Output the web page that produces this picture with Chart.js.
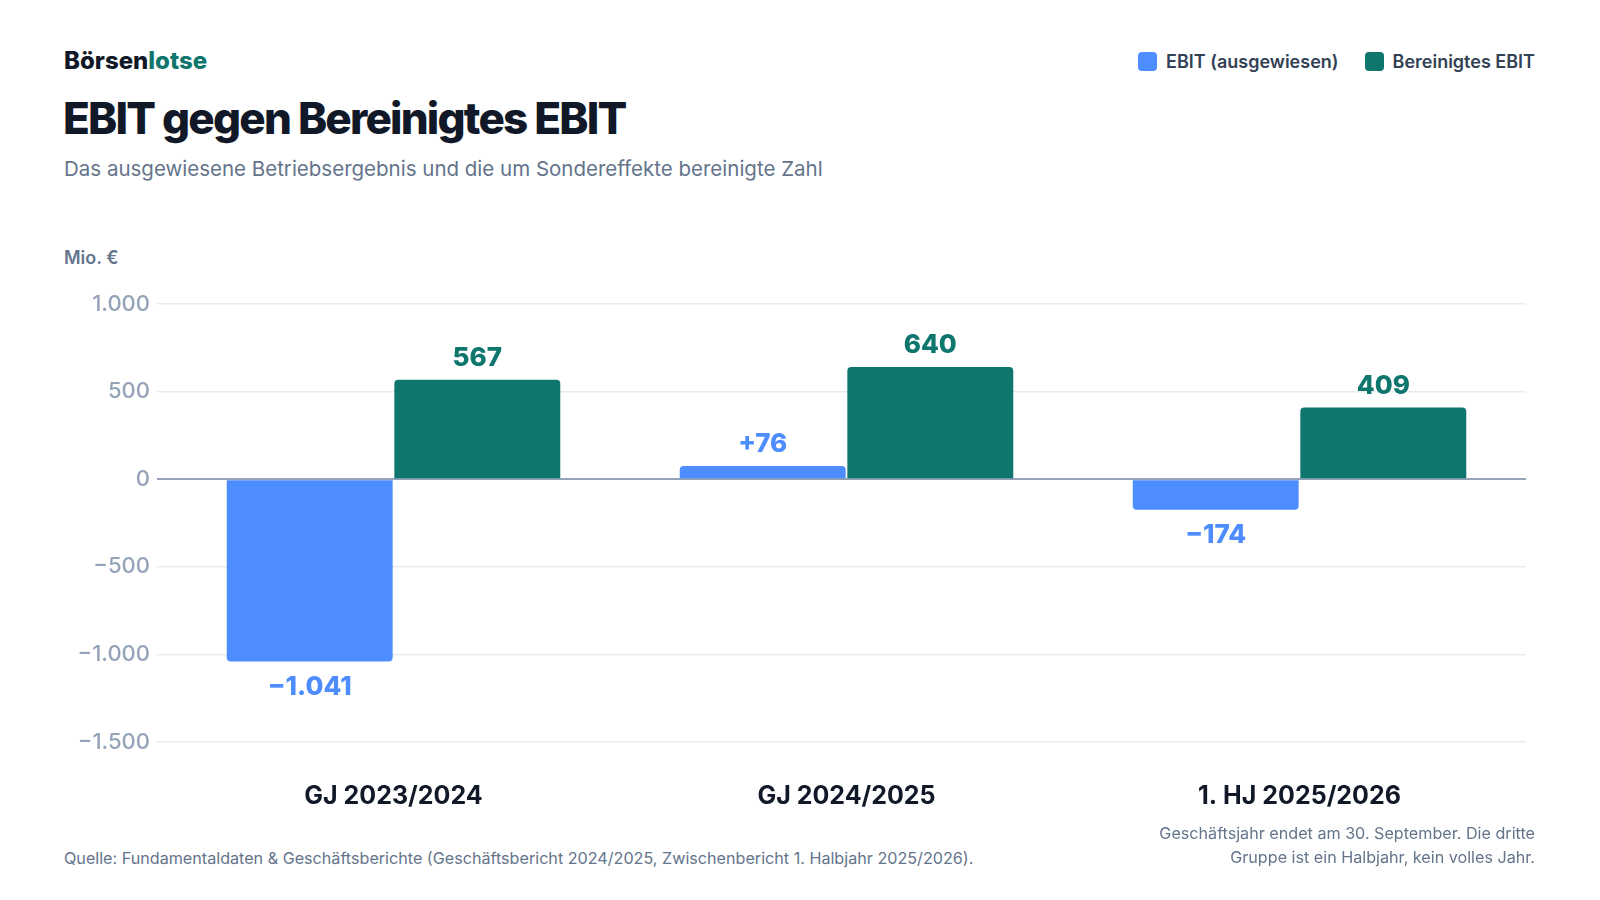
<!DOCTYPE html>
<html lang="de">
<head>
<meta charset="utf-8">
<title>EBIT gegen Bereinigtes EBIT</title>
<script src="https://cdn.jsdelivr.net/npm/chart.js@4.4.1/dist/chart.umd.min.js"></script>
<style>
  html, body { margin: 0; padding: 0; background: #fff; }
  body { width: 1600px; height: 900px; position: relative; overflow: hidden;
         font-family: Inter, "Noto Sans", sans-serif; }
  .abs { position: absolute; white-space: nowrap; }
  #brand { left: 64px; top: 49px; font-size: 24px; line-height: 1; font-weight: 800;
           color: #111827; letter-spacing: 0; }
  #brand span { color: #0f766e; }
  #title { left: 63px; top: 96px; font-size: 44px; line-height: 1; font-weight: 800;
           color: #111827; letter-spacing: -1.8px; }
  #subtitle { left: 64px; top: 159px; font-size: 20.5px; line-height: 1; color: #64748b; }
  #unit { left: 64px; top: 249px; font-size: 18px; line-height: 1; font-weight: 600; color: #64748b; }
  #legend { right: 65px; top: 51px; display: flex; align-items: center; gap: 26px;
            font-size: 18px; font-weight: 600; color: #334155; }
  #legend .item { display: flex; align-items: center; gap: 9px; }
  #legend i { display: inline-block; width: 19px; height: 19px; border-radius: 4px; }
  #source { left: 64px; top: 850px; font-size: 16.15px; line-height: 1; color: #64748b; }
  #note { right: 65px; top: 821px; font-size: 16.15px; line-height: 24px; color: #64748b; text-align: right; }
  #wrap { position: absolute; left: 0; top: 270px; width: 1600px; height: 560px; }
</style>
</head>
<body>
<div id="brand" class="abs">Börsen<span>lotse</span></div>
<div id="title" class="abs">EBIT gegen Bereinigtes EBIT</div>
<div id="subtitle" class="abs">Das ausgewiesene Betriebsergebnis und die um Sondereffekte bereinigte Zahl</div>
<div id="legend" class="abs"></div>
<div id="unit" class="abs">Mio. €</div>
<div id="wrap"><canvas id="chart"></canvas></div>
<div id="source" class="abs">Quelle: Fundamentaldaten &amp; Geschäftsberichte (Geschäftsbericht 2024/2025, Zwischenbericht 1. Halbjahr 2025/2026).</div>
<div id="note" class="abs">Geschäftsjahr endet am 30. September. Die dritte<br>Gruppe ist ein Halbjahr, kein volles Jahr.</div>

<script>
/* ---------- Daten ---------- */
const perioden      = ['GJ 2023/2024', 'GJ 2024/2025', '1. HJ 2025/2026'];
const ebitAusgew    = [-1041, 76, -174];
const ebitBereinigt = [567, 640, 409];
const serienNamen   = ['EBIT (ausgewiesen)', 'Bereinigtes EBIT'];
const yTicks        = [-1500, -1000, -500, 0, 500, 1000];

const BLAU = '#4d8dff', TEAL = '#0f766e';

/* Zahl im deutschen Format, echtes Minuszeichen */
function fmt(v, mitPlus) {
  const abs = String(Math.abs(v)).replace(/\B(?=(\d{3})+(?!\d))/g, '.');
  if (v < 0) return '\u2212' + abs;
  return (mitPlus && v > 0 ? '+' : '') + abs;
}

/* ---------- Legende ---------- */
const legend = document.getElementById('legend');
[BLAU, TEAL].forEach((c, i) => {
  const d = document.createElement('div');
  d.className = 'item';
  d.innerHTML = `<i style="background:${c}"></i><span>${serienNamen[i]}</span>`;
  legend.appendChild(d);
});

/* ---------- Wertbeschriftungen ---------- */
const wertLabels = {
  id: 'wertLabels',
  afterDatasetsDraw(chart) {
    const ctx = chart.ctx;
    ctx.save();
    ctx.font = '800 26px Inter, "Noto Sans", sans-serif';
    ctx.textAlign = 'center';
    ctx.textBaseline = 'alphabetic';
    chart.data.datasets.forEach((ds, di) => {
      chart.getDatasetMeta(di).data.forEach((bar, i) => {
        const v = ds.data[i];
        ctx.fillStyle = ds.backgroundColor;
        const y = v >= 0 ? bar.y - 14 : bar.y + 33;
        ctx.fillText(fmt(v, di === 0), bar.x, y);
      });
    });
    ctx.restore();
  }
};

/* ---------- Diagramm ---------- */
new Chart(document.getElementById('chart'), {
  type: 'bar',
  data: {
    labels: perioden,
    datasets: [
      { label: serienNamen[0], data: ebitAusgew, backgroundColor: BLAU },
      { label: serienNamen[1], data: ebitBereinigt, backgroundColor: TEAL }
    ]
  },
  options: {
    responsive: true,
    maintainAspectRatio: false,
    animation: false,
    layout: { padding: { top: 34, right: 74, bottom: 0, left: 0 } },
    datasets: { bar: { categoryPercentage: 0.74, barPercentage: 0.99, borderRadius: 4, borderSkipped: 'start' } },
    plugins: { legend: { display: false }, tooltip: { enabled: false } },
    scales: {
      x: {
        grid: { display: false, drawTicks: false },
        border: { display: false },
        ticks: { color: '#111827', padding: 39, font: { family: 'Inter', size: 25, weight: '700' } },
        afterFit(s) { s.height = 88; }
      },
      y: {
        min: yTicks[0],
        max: yTicks[yTicks.length - 1],
        afterBuildTicks(s) { s.ticks = yTicks.map(v => ({ value: v })); },
        grid: {
          color: c => c.tick && c.tick.value === 0 ? '#94a3b8' : '#e8ebf0',
          lineWidth: c => c.tick && c.tick.value === 0 ? 2 : 1.5,
          drawTicks: true,
          tickLength: 10
        },
        border: { display: false },
        ticks: {
          color: '#94a3b8', padding: 7,
          font: { family: 'Inter', size: 22, weight: '500' },
          callback: v => fmt(v, false)
        },
        afterFit(s) { s.width = 167; }
      }
    }
  },
  plugins: [wertLabels]
});
</script>
</body>
</html>
